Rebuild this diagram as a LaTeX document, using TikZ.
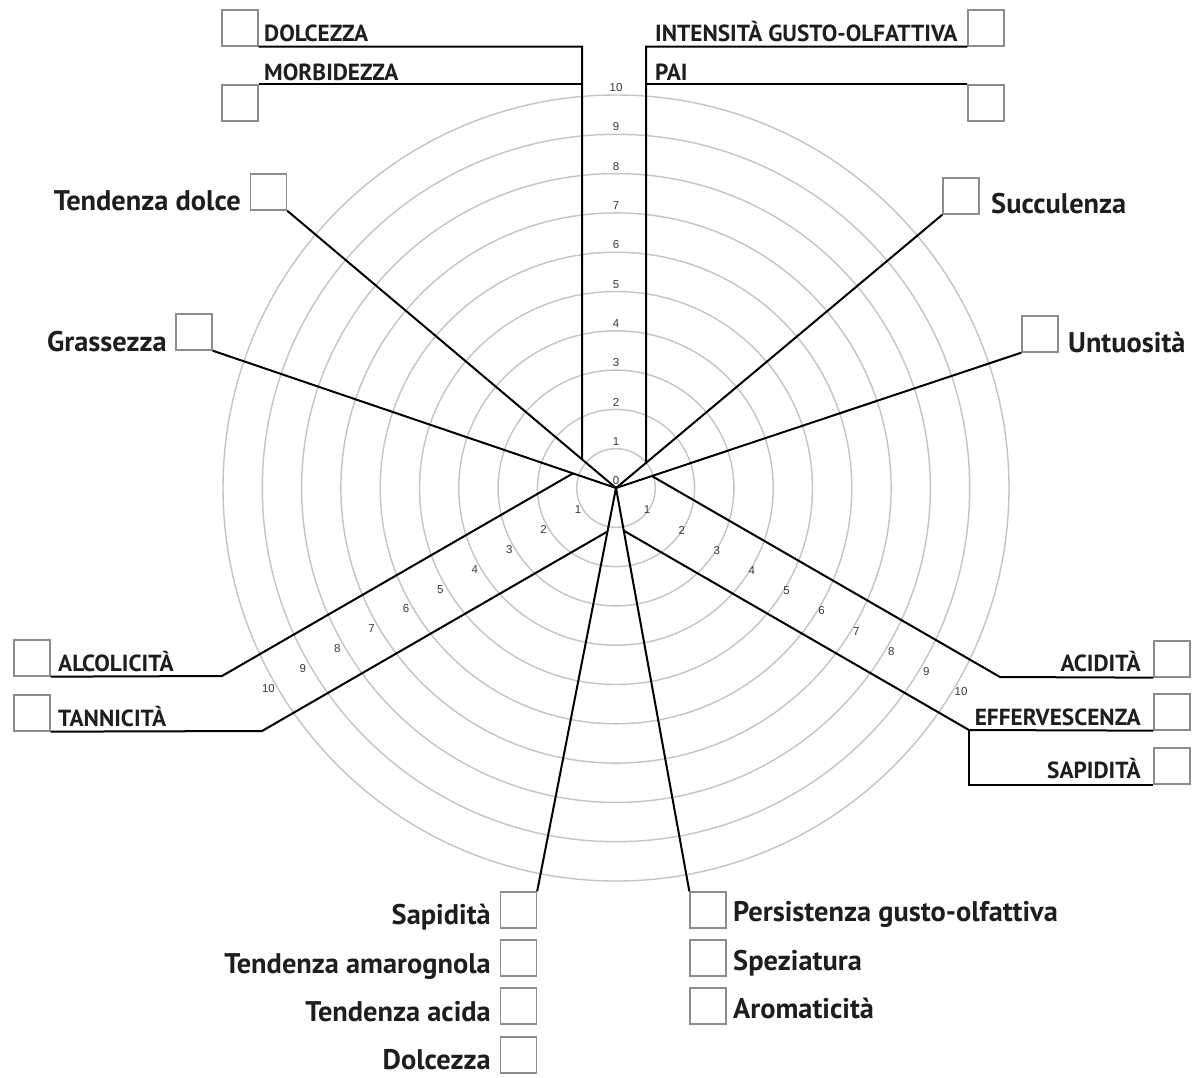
\documentclass[tikz,border=0pt]{standalone}
\usepackage{fontspec}
\setmainfont{PT Sans}
\newfontfamily\numfont{Liberation Sans}
\definecolor{boxgray}{HTML}{8C8C8C}
\definecolor{ringgray}{HTML}{C4C4C4}
\definecolor{ink}{HTML}{1E1E1E}
\definecolor{numink}{HTML}{3A3A3A}
\tikzset{
 cbox/.style={draw=boxgray, line width=1.3pt, minimum width=36pt, minimum height=36pt, inner sep=0pt},
 arm/.style={draw=black, line width=2pt, line join=miter},
 ring/.style={draw=ringgray, line width=1.4pt},
 lbl/.style={inner sep=0pt, text=ink, font=\bfseries\fontsize{28.4}{30}\selectfont},
 caplbl/.style={inner sep=0pt, text=ink, font=\bfseries\fontsize{23.3}{25}\selectfont},
 num/.style={inner sep=1pt, text=numink, font=\numfont\fontsize{11.5}{12}\selectfont},
}
\begin{document}
\begin{tikzpicture}[x=1pt,y=-1pt]
\fill[white] (0,0) rectangle (1194,1077);
\useasboundingbox (0,0) rectangle (1194,1077);
\coordinate (O) at (616,488);
% rings
\foreach \k in {1,...,10}{
  \pgfmathsetmacro{\rr}{39.3*\k}
  \draw[ring] (O) circle[radius=\rr pt];
}
% numbers
\foreach \k in {0,...,10}
  \node[num, anchor=south] (t\k) at (616,{486-39.3*\k}) {\k};
\foreach \k in {1,...,10}{
  \node[num] (l\k) at ({578-34.4*(\k-1)},{510+19.8*(\k-1)}) {\k};
  \node[num] (r\k) at ({647+34.9*(\k-1)},{510+20.2*(\k-1)}) {\k};
}
% boxes
\node[cbox] (bdol) at (240,28) {};
\node[cbox] (bmorb) at (240,103) {};
\node[cbox] (bint) at (986,28) {};
\node[cbox] (bpai) at (986,103) {};
\node[cbox] (btd) at (268.5,192) {};
\node[cbox] (bgr) at (194,332) {};
\node[cbox] (bsuc) at (961,196) {};
\node[cbox] (bunt) at (1040,334) {};
\node[cbox] (balc) at (32,658) {};
\node[cbox] (btan) at (32,713) {};
\node[cbox] (baci) at (1172,659) {};
\node[cbox] (beff) at (1172,712) {};
\node[cbox] (bsapr) at (1172,766) {};
\node[cbox] (bsapl) at (518.5,910) {};
\node[cbox] (bama) at (518.5,958) {};
\node[cbox] (bacida) at (518.5,1006) {};
\node[cbox] (bdolc) at (518.5,1055) {};
\node[cbox] (bpers) at (708,910) {};
\node[cbox] (bspez) at (708,958) {};
\node[cbox] (barom) at (708,1006) {};
% labels
\node[caplbl, anchor=base west] (tdol) at (264,41) {DOLCEZZA};
\node[caplbl, anchor=base west] (tmorb) at (264,80) {MORBIDEZZA};
\node[caplbl, anchor=base west] (tint) at (655,41) {INTENSITÀ GUSTO-OLFATTIVA};
\node[caplbl, anchor=base west] (tpai) at (655,80) {PAI};
\node[lbl, anchor=base east] (ttd) at (241,210) {Tendenza dolce};
\node[lbl, anchor=base east] (tgr) at (167,351) {Grassezza};
\node[lbl, anchor=base west] (tsuc) at (991,213) {Succulenza};
\node[lbl, anchor=base west] (tunt) at (1068,352) {Untuosità};
\node[caplbl, anchor=base west] (talc) at (58,671) {ALCOLICITÀ};
\node[caplbl, anchor=base west] (ttan) at (58,726) {TANNICITÀ};
\node[caplbl, anchor=base east] (taci) at (1141,671) {ACIDITÀ};
\node[caplbl, anchor=base east] (teff) at (1141,725) {EFFERVESCENZA};
\node[caplbl, anchor=base east] (tsapr) at (1141,778) {SAPIDITÀ};
\node[lbl, anchor=base east] (tsapl) at (491,924) {Sapidità};
\node[lbl, anchor=base east] (tama) at (491,973) {Tendenza amarognola};
\node[lbl, anchor=base east] (tacida) at (491,1021) {Tendenza acida};
\node[lbl, anchor=base east] (tdolc) at (491,1069) {Dolcezza};
\node[lbl, anchor=base west] (tpers) at (733,921) {Persistenza gusto-olfattiva};
\node[lbl, anchor=base west] (tspez) at (733,970) {Speziatura};
\node[lbl, anchor=base west] (tarom) at (733,1018) {Aromaticità};
% helper coordinates
\coordinate (TD) at (btd.south east);
\coordinate (GR) at (bgr.south east);
\coordinate (SU) at (bsuc.south west);
\coordinate (UN) at (bunt.south west);
\coordinate (SL) at (bsapl.north east);
\coordinate (PE) at (bpers.north west);
\coordinate (LV) at (582,46);
\coordinate (LVb) at (582,400);
\coordinate (RV) at (646,46);
\coordinate (RVb) at (646,400);
\coordinate (AL) at (222,676);
\coordinate (ALd) at (522,502.8);
\coordinate (TN) at (262,731);
\coordinate (TNd) at (562,557.8);
\coordinate (AC) at (1000,677);
\coordinate (ACd) at (700,503.8);
\coordinate (EF) at (969,730);
\coordinate (EFd) at (669,556.8);
% arms
\draw[arm] (TD) -- (O);
\draw[arm] (GR) -- (O);
\draw[arm] (SU) -- (O);
\draw[arm] (UN) -- (O);
\draw[arm] (SL) -- (O);
\draw[arm] (PE) -- (O);
\draw[arm] (bdol.south east) -- (bdol.south east -| LV) -- (intersection of LV--LVb and TD--O);
\draw[arm] (bmorb.north east) -- (bmorb.north east -| LV);
\draw[arm] (bint.south west) -- (bint.south west -| RV) -- (intersection of RV--RVb and SU--O);
\draw[arm] (bpai.north west) -- (bpai.north west -| RV);
\draw[arm] (balc.south east) -- (AL) -- (intersection of AL--ALd and GR--O);
\draw[arm] (btan.south east) -- (TN) -- (intersection of TN--TNd and SL--O);
\draw[arm] (baci.south west) -- (AC) -- (intersection of AC--ACd and UN--O);
\draw[arm] (beff.south west) -- (EF) -- (intersection of EF--EFd and PE--O);
\draw[arm] (EF) -- (EF |- bsapr.south) -- (bsapr.south west);
\end{tikzpicture}
\end{document}
